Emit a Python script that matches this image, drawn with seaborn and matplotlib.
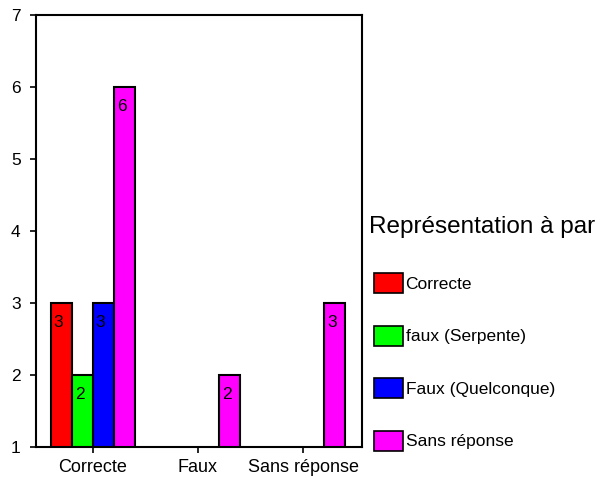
import numpy as np
import pandas as pd
import matplotlib
matplotlib.use("Agg")
import matplotlib.pyplot as plt
from matplotlib.patches import Patch
import seaborn as sns

categories = ["Correcte", "Faux", "Sans réponse"]
series = ["Correcte", "faux (Serpente)", "Faux (Quelconque)", "Sans réponse"]
vals_correcte = [3, np.nan, np.nan]
vals_serpente = [2, np.nan, np.nan]
vals_quelconque = [3, np.nan, np.nan]
vals_sans = [6, 2, 3]
colors = ["#FF0000", "#00FF00", "#0000FF", "#FF00FF"]
y_ticks = [1, 2, 3, 4, 5, 6, 7]
legend_title = "Représentation à par"

rows = []
for s, vals in zip(series, [vals_correcte, vals_serpente, vals_quelconque, vals_sans]):
    for c, v in zip(categories, vals):
        rows.append({"cat": c, "serie": s, "val": v})
df = pd.DataFrame(rows)

sns.set_style("white")
plt.rcParams["font.family"] = ["Liberation Sans", "DejaVu Sans"]
plt.rcParams["text.color"] = "black"
plt.rcParams["axes.labelcolor"] = "black"

fig = plt.figure(figsize=(6.1, 4.79), dpi=100)
ax = fig.add_axes([36 / 610, 32 / 479, 326 / 610, 432 / 479])

sns.barplot(data=df, x="cat", y="val", hue="serie", order=categories,
            hue_order=series, palette=colors, width=0.8, saturation=1,
            edgecolor="black", linewidth=1.5, legend=False, ax=ax)

for cont in ax.containers:
    for p in cont.patches:
        h = p.get_height()
        if np.isfinite(h) and h > 0:
            ax.annotate(f"{int(h)}", xy=(p.get_x() + p.get_width() / 2, h),
                        xytext=(-2, -14), textcoords="offset points",
                        ha="center", va="center", fontsize=12.5, color="black")

ax.set_ylim(1, 7)
ax.set_xlim(-0.54, 2.56)
ax.set_yticks(y_ticks)
ax.set_yticklabels([str(t) for t in y_ticks], fontsize=12.5)
ax.set_xticks(range(len(categories)))
ax.set_xticklabels(categories, fontsize=13)
ax.set_xlabel("")
ax.set_ylabel("")
for sp in ax.spines.values():
    sp.set_color("black")
    sp.set_linewidth(1.5)
ax.tick_params(axis="both", direction="out", length=4, width=1.2, colors="black",
               left=True, bottom=True)
ax.tick_params(axis="y", pad=7)
ax.tick_params(axis="x", pad=5)

fig.text(369 / 610, 1 - 227 / 479, legend_title, fontsize=17.5, ha="left",
         va="center", color="black")

handles = [Patch(facecolor=c, edgecolor="black", linewidth=1.2) for c in colors]
leg = fig.legend(handles, series, loc="upper left", bbox_to_anchor=(374 / 610, 1 - 273 / 479),
                 fontsize=12.5, frameon=False, borderpad=0,
                 handlelength=1.67, handleheight=1.4, handletextpad=0.15,
                 labelspacing=1.87, borderaxespad=0)
for t in leg.get_texts():
    t.set_color("black")

fig.savefig("out.png", dpi=100)
